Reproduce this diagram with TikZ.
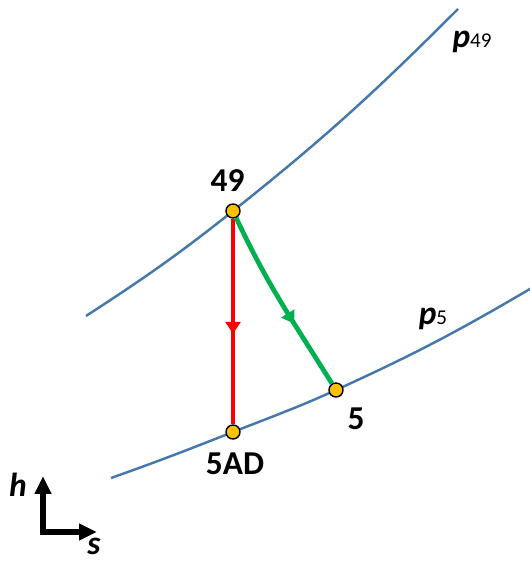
\documentclass[tikz,border=0pt]{standalone}
\usepackage{fontspec}
\setmainfont{Carlito}
\usepackage{tikz}
\usetikzlibrary{arrows.meta, positioning, decorations.markings}

\definecolor{isoblue}{RGB}{70,120,172}
\definecolor{pathgreen}{RGB}{0,176,80}
\definecolor{pathred}{RGB}{255,0,0}
\definecolor{stateorange}{RGB}{255,192,0}

\begin{document}
\begin{tikzpicture}[
    font=\fontsize{19}{22}\selectfont\bfseries,
    isobar/.style={draw=isoblue, line width=1.4pt},
    state/.style={circle, draw=black, fill=stateorange, line width=0.8pt, minimum size=0.28cm, inner sep=0pt},
    lbl/.style={inner sep=0pt},
    process/.style={line width=2.7pt, postaction={decorate}, decoration={markings,
        mark=at position #1 with {\arrow{Triangle[length=0.24cm, width=0.3cm]}}}},
    axis/.style={line width=3.4pt, line join=miter, {Triangle[length=0.36cm, width=0.32cm]}-{Triangle[length=0.36cm, width=0.32cm]}}
]
\useasboundingbox (0,0) rectangle (10.6,11.26);

% points on the isobars
\coordinate (a49) at (1.72,4.94);
\coordinate (c49) at (4.66,7.04);
\coordinate (b49) at (9.16,11.08);
\coordinate (a5) at (2.22,1.70);
\coordinate (c5ad) at (4.66,2.62);
\coordinate (c5) at (6.72,3.46);
\coordinate (b5) at (10.7,5.54);

% isobars
\draw [isobar] (a49) to[out=33, in=218.5] (c49) to[out=38.5, in=225] (b49);
\draw [isobar] (a5) to[out=19.5, in=201.5] (c5ad) to[out=21.5, in=204.5] (c5) to[out=24.5, in=210.5] (b5);
\node (p49) [lbl] at (9.44,10.42) {\textit{p}{\fontsize{12}{14}\selectfont\mdseries 49}};
\node (p5) [lbl] at (8.66,4.88) {\textit{p}{\fontsize{12}{14}\selectfont\mdseries 5}};

% states
\node (s49) [state] at (c49) {};
\node (s5ad) [state] at (c5ad) {};
\node (s5) [state] at (c5) {};
\node (t49) [lbl, above=0.22cm of s49, xshift=-0.11cm] {49};
\node (t5ad) [lbl, below=0.26cm of s5ad, xshift=0.04cm] {5AD};
\node (t5) [lbl, below=0.2cm of s5, xshift=0.4cm] {5};

% expansions
\draw [process=0.56, draw=pathred, color=pathred] (s49) -- (s5ad);
\draw [process=0.63, draw=pathgreen, color=pathgreen] (s49) to[out=-65, in=122] (s5);

% h-s axes
\coordinate (corner) at (0.86,0.62);
\coordinate (htip) at (0.86,1.74);
\coordinate (stip) at (1.94,0.62);
\draw [axis] (htip) -- (corner) -- (stip);
\node (h) [lbl] at (0.36,1.56) {\textit{h}};
\node (s) [lbl] at (1.88,0.34) {\textit{s}};
\end{tikzpicture}
\end{document}
